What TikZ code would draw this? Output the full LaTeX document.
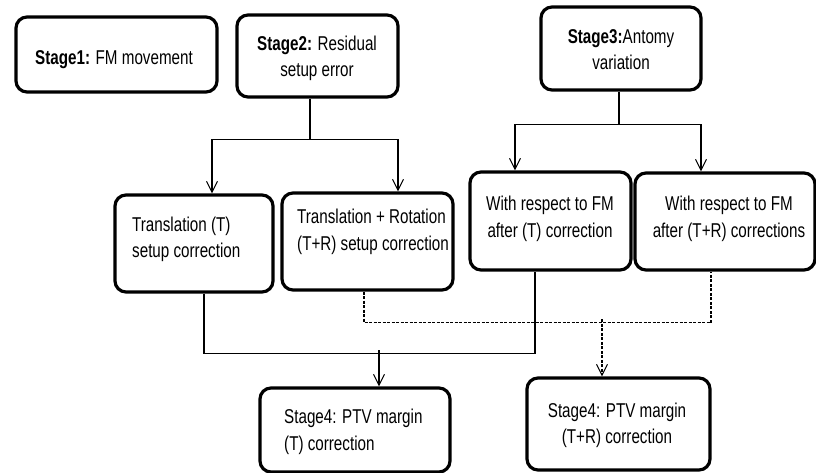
\documentclass[tikz,border=0pt]{standalone}
\usepackage{fontspec}
\setmainfont{Liberation Sans}[FakeStretch=0.76]
\usetikzlibrary{arrows.meta,calc}
\tikzset{
  box/.style={draw, line width=3.2pt, rounded corners=11pt, inner sep=0pt, font=\fontsize{20}{26}\selectfont},
  txt/.style={inner sep=0pt, font=\fontsize{20}{26}\selectfont},
  conn/.style={line width=1.3pt},
  arr/.style={conn, -{Straight Barb[length=11pt,width=11pt,line width=1pt]}},
  dconn/.style={line width=1.3pt, dash pattern=on 3pt off 1.5pt},
}
\begin{document}
\begin{tikzpicture}[x=1pt,y=-1pt]
\useasboundingbox (0,0) rectangle (816,472);
% stage boxes
\node[box, minimum width=201pt, minimum height=75pt] (s1) at (116.5,54.5) {};
\node[txt] (s1l) at (114,60) {\textbf{Stage1:} FM movement};
\node[box, minimum width=161pt, minimum height=82pt] (s2) at (317.5,56) {};
\node[txt, align=center] (s2l) at (317,58) {\textbf{Stage2:} Residual\\setup error};
\node[box, minimum width=160pt, minimum height=83pt] (s3) at (621,48.5) {};
\node[txt, align=center] (s3l) at (621,50) {\textbf{Stage3:}Antomy\\variation};
% middle row
\node[box, minimum width=158pt, minimum height=97pt] (t) at (194,243.5) {};
\node[txt, align=left, anchor=west] (tl) at (132,239.5) {Translation (T)\\setup correction};
\node[box, minimum width=171pt, minimum height=97pt] (tr) at (367.5,241.5) {};
\node[txt, align=left, anchor=west, font=\fontsize{20}{27}\selectfont] (trl) at (297,231.5) {Translation + Rotation\\(T+R) setup correction};
\node[box, minimum width=161pt, minimum height=98pt] (w1) at (550.5,221) {};
\node[txt, align=center, font=\fontsize{20}{27}\selectfont] (w1l) at (550,218.5) {With respect to FM\\after (T) correction};
\node[box, minimum width=180pt, minimum height=97pt] (w2) at (725,221.5) {};
\node[txt, align=center, font=\fontsize{20}{27}\selectfont] (w2l) at (729,218.5) {With respect to FM\\after (T+R) corrections};
% stage4
\node[box, minimum width=190pt, minimum height=84pt] (p1) at (355,430) {};
\node[txt, align=left, anchor=west, font=\fontsize{20}{27}\selectfont] (p1l) at (284,431.5) {Stage4: PTV margin\\(T) correction};
\node[box, minimum width=183pt, minimum height=92pt] (p2) at (618.5,424) {};
\node[txt, align=center, font=\fontsize{20}{26}\selectfont] (p2l) at (617,425) {Stage4: PTV margin\\(T+R) correction};
% stage2 split
\coordinate (j2) at ($(s2.south)+(-7.5,41)$);
\draw[conn] ([xshift=-7.5pt]s2.south) -- (j2);
\draw[arr] (j2) -| ([xshift=18pt]t.north);
\draw[arr] (j2) -| ([xshift=30.5pt]tr.north);
% stage3 split
\coordinate (j3) at ($(s3.south)+(-2,33)$);
\draw[conn] ([xshift=-2pt]s3.south) -- (j3);
\draw[arr] (j3) -| ([xshift=-35.5pt]w1.north);
\draw[arr] (j3) -| ([xshift=-24pt]w2.north);
% solid merge
\coordinate (m1) at ($(t.south)+(10,60)$);
\coordinate (m2) at ($(w1.south)+(-15.5,0)$);
\draw[conn] ([xshift=10pt]t.south) -- (m1) -| (m2);
\coordinate (m3) at ($(p1.north)+(24,-36)$);
\draw[arr] (m3) -- ([xshift=24pt]p1.north);
% dashed merge
\coordinate (d1) at ($(tr.south)+(-3.5,31)$);
\coordinate (d2) at ($(w2.south)+(-14,0)$);
\draw[dconn] ([xshift=-3.5pt]tr.south) -- (d1) -| (d2);
\coordinate (d3) at ($(p2.north)+(-16.5,-57)$);
\draw[dconn, -{Straight Barb[length=11pt,width=11pt,line width=1pt]}] (d3) -- ([xshift=-16.5pt]p2.north);
\end{tikzpicture}
\end{document}
